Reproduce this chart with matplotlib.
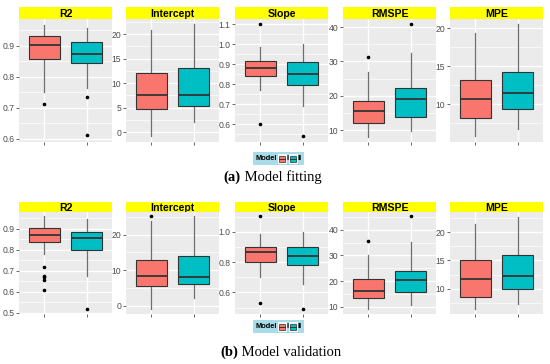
import matplotlib
matplotlib.use("Agg")
import matplotlib.pyplot as plt
import numpy as np
from matplotlib.patches import Rectangle

plt.rcParams["font.family"] = ["Liberation Sans", "DejaVu Sans"]

# panel names
metrics = ["R2", "Intercept", "Slope", "RMSPE", "MPE"]
models = ["I", "II"]

# (a) Model fitting: box stats per metric, [Model I, Model II]
fit_whislo = [[0.75, 0.765], [-0.8, 2.1], [0.77, 0.69], [8.1, 9.7], [5.8, 6.7]]
fit_q1 = [[0.858, 0.846], [4.7, 5.4], [0.839, 0.797], [11.95, 13.8], [8.24, 9.34]]
fit_med = [[0.904, 0.873], [7.6, 7.5], [0.879, 0.849], [15.6, 19.1], [10.75, 11.5]]
fit_q3 = [[0.931, 0.913], [12.0, 13.0], [0.917, 0.909], [18.6, 22.4], [13.13, 14.18]]
fit_whishi = [[0.969, 0.958], [20.95, 22.0], [0.986, 0.999], [26.9, 32.4], [19.3, 20.6]]
fit_fliers = [[[0.713], [0.736, 0.612]], [[], []], [[1.1, 0.6], [0.54]],
              [[31.2], [41.0]], [[], []]]
fit_ticks = [[0.6, 0.7, 0.8, 0.9], [0, 5, 10, 15, 20], [0.6, 0.7, 0.8, 0.9, 1.0, 1.1],
             [10, 20, 30, 40], [10, 15, 20]]
fit_ticklabels = [["0.6", "0.7", "0.8", "0.9"], ["0", "5", "10", "15", "20"],
                  ["0.6", "0.7", "0.8", "0.9", "1.0", "1.1"], ["10", "20", "30", "40"],
                  ["10", "15", "20"]]
fit_ylim = [(0.59, 0.987), (-2.0, 23.1), (0.51, 1.125), (6.5, 42.4), (5.05, 21.2)]

# (b) Model validation
val_whislo = [[0.778, 0.677], [-1.0, 2.25], [0.703, 0.653], [9.2, 10.6], [6.47, 7.3]]
val_q1 = [[0.837, 0.800], [5.54, 6.1], [0.802, 0.78], [13.5, 15.8], [8.59, 9.88]]
val_med = [[0.872, 0.857], [8.26, 8.1], [0.864, 0.84], [16.2, 20.6], [11.65, 12.3]]
val_q3 = [[0.903, 0.886], [12.96, 14.1], [0.901, 0.899], [20.85, 24.1], [15.0, 15.9]]
val_whishi = [[0.958, 0.947], [24.0, 25.2], [0.989, 1.0], [30.0, 35.1], [21.5, 22.8]]
val_fliers = [[[0.717, 0.675, 0.668, 0.658, 0.606], [0.519]], [[25.2], []],
              [[1.103, 0.532], [0.492]], [[35.5], [45.2]], [[], []]]
val_ticks = [[0.5, 0.6, 0.7, 0.8, 0.9], [0, 10, 20], [0.6, 0.8, 1.0],
             [10, 20, 30, 40], [10, 15, 20]]
val_ticklabels = [["0.5", "0.6", "0.7", "0.8", "0.9"], ["0", "10", "20"],
                  ["0.6", "0.8", "1.0"], ["10", "20", "30", "40"], ["10", "15", "20"]]
val_ylim = [(0.494, 0.979), (-2.4, 26.4), (0.457, 1.132), (7.2, 46.9), (5.5, 23.6)]

W, H = 550, 364
colors = ["#F8766D", "#00BFC4"]
panel_x = [19, 126, 235, 343, 450]
panel_w = 93


def px(x, y, w, h):
    # pixel box (top-left origin) -> figure fraction rect
    return [x / W, (H - y - h) / H, w / W, h / H]


def draw_row(fig, top_strip, strip_h, panel_h, whislo, q1, med, q3, whishi, fliers,
             ticks, ticklabels, ylims):
    for i, name in enumerate(metrics):
        x0 = panel_x[i]
        # strip
        sax = fig.add_axes(px(x0, top_strip, panel_w, strip_h))
        sax.set_facecolor("#FFFF00")
        sax.set_xticks([])
        sax.set_yticks([])
        for s in sax.spines.values():
            s.set_visible(False)
        sax.text(0.5, 0.5, name, ha="center", va="center_baseline", fontsize=7.6,
                 fontweight="bold", color="black", transform=sax.transAxes)

        ax = fig.add_axes(px(x0, top_strip + strip_h, panel_w, panel_h))
        ax.set_facecolor("#EBEBEB")
        for s in ax.spines.values():
            s.set_visible(False)

        stats = []
        for j in range(2):
            stats.append(dict(whislo=whislo[i][j], q1=q1[i][j], med=med[i][j],
                              q3=q3[i][j], whishi=whishi[i][j], fliers=fliers[i][j]))
        bp = ax.bxp(stats, positions=[1, 2], widths=0.75, patch_artist=True,
                    showcaps=False,
                    boxprops=dict(edgecolor="#333333", linewidth=0.8),
                    medianprops=dict(color="#333333", linewidth=1.3),
                    whiskerprops=dict(color="#6E6E6E", linewidth=0.9),
                    flierprops=dict(marker="o", markersize=1.6, markerfacecolor="black",
                                    markeredgecolor="black"))
        for patch, c in zip(bp["boxes"], colors):
            patch.set_facecolor(c)
            patch.set_zorder(3)
        for k in ("whiskers", "medians", "fliers"):
            for art in bp[k]:
                art.set_zorder(4 if k != "whiskers" else 2)

        ax.set_xlim(0.4, 2.6)
        ax.set_ylim(*ylims[i])
        ax.set_xticks([1, 2])
        ax.set_xticklabels(["", ""])
        ax.set_yticks(ticks[i])
        ax.set_yticklabels(ticklabels[i])
        step = ticks[i][1] - ticks[i][0]
        minors = np.arange(ticks[i][0] - step / 2, ylims[i][1], step)
        ax.set_yticks([m for m in minors if ylims[i][0] < m < ylims[i][1]], minor=True)
        ax.tick_params(axis="y", which="minor", length=0)
        ax.tick_params(axis="both", which="major", length=2, width=0.6, color="#4D4D4D",
                       labelsize=6.2, labelcolor="#4D4D4D", pad=1.5)
        ax.grid(True, which="major", color="white", linewidth=1.0)
        ax.grid(True, which="minor", axis="y", color="white", linewidth=0.5)
        ax.set_axisbelow(True)


def draw_legend(fig, x, y, w, h):
    lax = fig.add_axes(px(x, y, w, h))
    lax.set_xlim(0, w)
    lax.set_ylim(0, h)
    lax.set_facecolor("#A8DCE8")
    lax.set_xticks([])
    lax.set_yticks([])
    for s in lax.spines.values():
        s.set_visible(False)
    lax.text(2.5, h / 2, "Model", ha="left", va="center", fontsize=5.4, fontweight="bold")
    kx = [25, 36]
    for xk, c, lab in zip(kx, colors, models):
        lax.add_patch(Rectangle((xk, 2.0), 8, h - 4.0, facecolor="#F2F2F2",
                                edgecolor="white", linewidth=0.6))
        lax.add_patch(Rectangle((xk + 1, 3.5), 6, h - 7.0, facecolor=c,
                                edgecolor="#333333", linewidth=0.5))
        lax.plot([xk + 1, xk + 7], [h / 2, h / 2], color="#333333", linewidth=0.7)
        lax.text(xk + 8.8, h / 2, lab, ha="left", va="center", fontsize=5.4,
                 fontweight="bold")


fig = plt.figure(figsize=(W / 100, H / 100), dpi=100)

draw_row(fig, 7, 12, 123, fit_whislo, fit_q1, fit_med, fit_q3, fit_whishi, fit_fliers,
         fit_ticks, fit_ticklabels, fit_ylim)
draw_legend(fig, 253, 152, 51, 13)
fig.text(241 / W, 1 - 177 / H, "(a)", ha="right", va="center", fontsize=10.5,
         family="Liberation Serif", fontweight="bold")
fig.text(241 / W, 1 - 177 / H, " Model fitting", ha="left", va="center", fontsize=10.5,
         family="Liberation Serif")

draw_row(fig, 202, 10, 102, val_whislo, val_q1, val_med, val_q3, val_whishi, val_fliers,
         val_ticks, val_ticklabels, val_ylim)
draw_legend(fig, 253, 320, 51, 13)
fig.text(238 / W, 1 - 352 / H, "(b)", ha="right", va="center", fontsize=10.5,
         family="Liberation Serif", fontweight="bold")
fig.text(238 / W, 1 - 352 / H, " Model validation", ha="left", va="center", fontsize=10.5,
         family="Liberation Serif")

fig.savefig("out.png", dpi=100)
